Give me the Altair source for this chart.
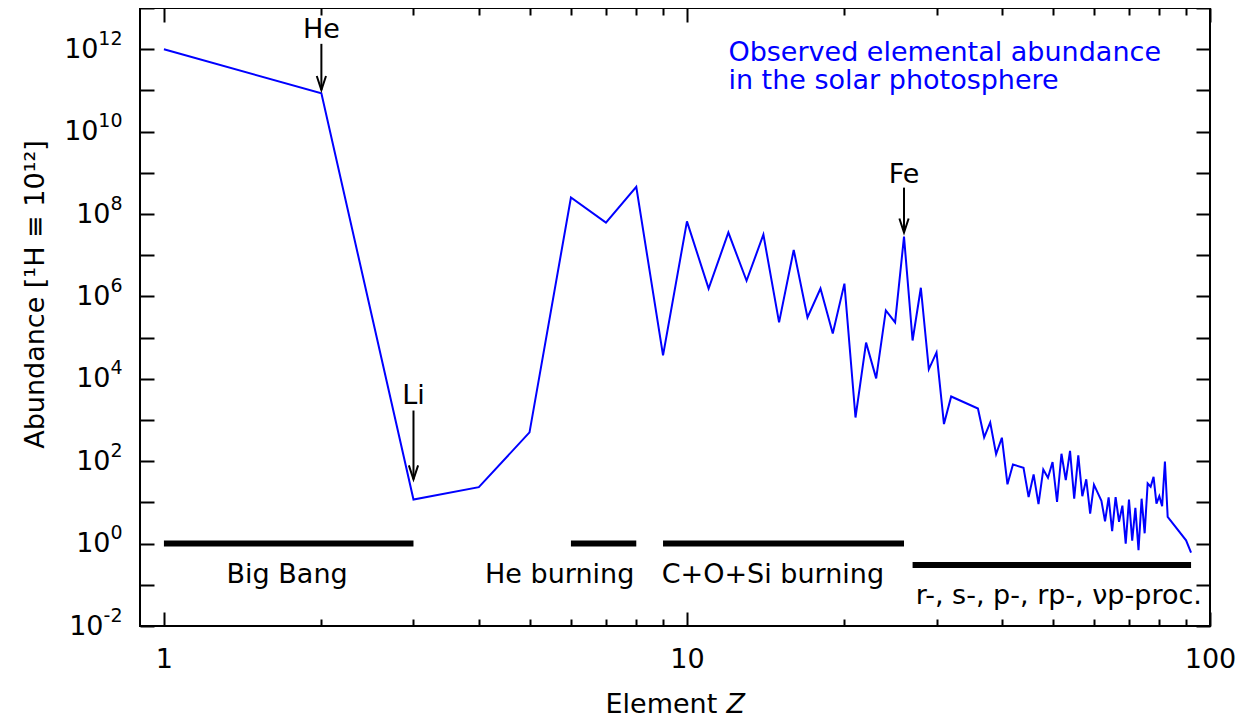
import altair as alt
import pandas as pd

FONT = "DejaVu Sans"
FS = 27
FS_SUP = 19

# Observed solar photospheric abundances, log10 (H = 10^12)
Z = [1, 2, 3, 4, 5, 6, 7, 8, 9, 10, 11, 12, 13, 14, 15, 16, 17, 18, 19, 20,
     21, 22, 23, 24, 25, 26, 27, 28, 29, 30, 31, 32, 36, 37, 38, 39, 40, 41, 42,
     44, 45, 46, 47, 48, 49, 50, 51, 52, 53, 54, 55, 56, 57, 58, 59, 60, 62, 63,
     64, 65, 66, 67, 68, 69, 70, 71, 72, 73, 74, 75, 76, 77, 78, 79, 80, 81, 82,
     83, 90, 92]
LOG_ABUND = [12.00, 10.93, 1.07, 1.37, 2.70, 8.40, 7.79, 8.66, 4.57, 7.82,
             6.19, 7.55, 6.38, 7.50, 5.37, 7.13, 5.49, 6.19, 5.10, 6.31,
             3.06, 4.88, 4.01, 5.66, 5.37, 7.45, 4.93, 6.21, 4.23, 4.64,
             2.90, 3.57, 3.28, 2.58, 2.94, 2.17, 2.57, 1.44, 1.92,
             1.84, 1.13, 1.68, 0.96, 1.80, 1.60, 1.98, 1.01, 2.18, 1.54, 2.25,
             1.09, 2.14, 1.15, 1.56, 0.73, 1.43, 1.04, 0.54,
             1.12, 0.30, 1.13, 0.53, 0.92, 0.00, 1.07, 0.07, 0.87, -0.16, 1.09,
             0.25, 1.46, 1.38, 1.62, 0.97, 1.15, 0.91, 1.99,
             0.65, 0.08, -0.22]

# Nucleosynthesis process bars
BAR_NAMES = ["Big Bang", "He burning", "C+O+Si burning", "r-, s-, p-, rp-, νp-proc."]
BAR_START = [1, 6, 9, 27]
BAR_END = [3, 8, 26, 92]
BAR_LEVEL = [0.0, 0.0, 0.0, -0.52]
BAR_LABEL_X = [1.72, 5.71, 14.6, 51.4]
BAR_LABEL_Y = [-0.96, -0.96, -0.96, -1.47]

# Arrow annotations
ARROW_TEXT = ["He", "Li", "Fe"]
ARROW_X = [2, 3, 26]
ARROW_TEXT_Y = [12.27, 3.40, 8.76]
ARROW_TOP = [12.13, 3.23, 8.64]
ARROW_TIP = [11.01, 1.56, 7.55]

# Legend-like note (two lines in one text item)
NOTE_TEXT = ["Observed elemental abundance\nin the solar photosphere"]
NOTE_X = [12.0]
NOTE_Y = [11.71]

# Axis ticks
X_MAJOR = [1, 10, 100]
X_MINOR = [2, 3, 4, 5, 6, 7, 8, 9, 20, 30, 40, 50, 60, 70, 80, 90]
Y_EXP = list(range(-2, 14))
Y_TICKS = [10.0 ** e for e in Y_EXP]
# tick label = base "10" + raised exponent
Y_BASE = ["10", "", "10", "", "10", "", "10", "", "10", "", "10", "", "10", "", "10", ""]
Y_SUP = ["-2", "", "0", "", "2", "", "4", "", "6", "", "8", "", "10", "", "12", ""]

line_df = pd.DataFrame({"Z": Z, "logA": LOG_ABUND})
bar_df = pd.DataFrame({"name": BAR_NAMES, "z0": BAR_START, "z1": BAR_END,
                       "lev": BAR_LEVEL, "lx": BAR_LABEL_X, "ly": BAR_LABEL_Y})
arrow_df = pd.DataFrame({"t": ARROW_TEXT, "x": ARROW_X, "ty": ARROW_TEXT_Y,
                         "top": ARROW_TOP, "tip": ARROW_TIP})
note_df = pd.DataFrame({"t": NOTE_TEXT, "x": NOTE_X, "y": NOTE_Y})

xs = alt.Scale(type="log", domain=[0.9, 100], nice=False)
ys = alt.Scale(type="log", domain=[1e-2, 1e13], nice=False)


def lookup_expr(labels):
    return "[" + ",".join("'%s'" % s for s in labels) + "][round(log(datum.value)/LN10)+2]"


common = dict(domain=False, grid=False, tickColor="black", tickWidth=2,
              labelFont=FONT, labelFontSize=FS, labelColor="black",
              titleFont=FONT, titleFontSize=FS, titleFontWeight="normal",
              titleColor="black")

x_bottom_major = alt.Axis(orient="bottom", values=X_MAJOR, tickSize=14, offset=-14,
                          labelPadding=20, format="d", title="Element",
                          titleBaseline="alphabetic", titleAlign="left",
                          titleX=465, titleY=100, labelFlush=False, **common)
x_bottom_minor = alt.Axis(orient="bottom", values=X_MINOR, tickSize=7, offset=-7,
                          labels=False, title=None, **common)
x_bottom_title_z = alt.Axis(orient="bottom", values=X_MAJOR, ticks=False, labels=False,
                            title="Z", titleFontStyle="italic", titleBaseline="alphabetic",
                            titleAlign="left", titleX=586, titleY=86, **common)
x_top_major = alt.Axis(orient="top", values=X_MAJOR, tickSize=14, offset=-14,
                       labels=False, title=None, **common)
x_top_minor = alt.Axis(orient="top", values=X_MINOR, tickSize=7, offset=-7,
                       labels=False, title=None, **common)
# base "10": pushed left by the width of its exponent
base_padding = {"condition": [{"test": "datum.value < 0.05", "value": 37},
                              {"test": "datum.value > 1e9", "value": 42}],
                "value": 30}
y_left = alt.Axis(orient="left", values=Y_TICKS, tickSize=14, offset=-14,
                  labelPadding=base_padding, labelExpr=lookup_expr(Y_BASE),
                  labelFlush=False, labelAlign="right",
                  title="Abundance [¹H ≡ 10¹²]", titleAngle=270,
                  titleBaseline="middle", titleX=-119, titleY=286, **common)
sup_common = dict(common)
sup_common["labelFontSize"] = FS_SUP
y_left_sup = alt.Axis(orient="left", values=Y_TICKS, ticks=False, offset=-14,
                      labelPadding=32, labelExpr=lookup_expr(Y_SUP), labelFlush=False,
                      labelAlign="right", labelOffset=-11, title=None, **sup_common)
y_right = alt.Axis(orient="right", values=Y_TICKS, tickSize=14, offset=-14,
                   labels=False, title=None, **common)

line = alt.Chart(line_df).transform_calculate(A="pow(10, datum.logA)").mark_line(
    color="#0000ff", strokeWidth=2
).encode(
    x=alt.X("Z:Q", scale=xs, axis=x_bottom_major),
    y=alt.Y("A:Q", scale=ys, axis=y_left),
    order="Z:Q",
)

bars = alt.Chart(bar_df).transform_calculate(L="pow(10, datum.lev)").mark_rule(
    color="black", strokeWidth=6, strokeCap="butt"
).encode(
    x=alt.X("z0:Q", scale=xs, axis=x_bottom_minor),
    x2="z1:Q",
    y=alt.Y("L:Q", scale=ys, axis=y_right),
)

bar_text = alt.Chart(bar_df).transform_calculate(Y="pow(10, datum.ly)").mark_text(
    font=FONT, fontSize=FS, color="black", align="center", baseline="alphabetic"
).encode(
    x=alt.X("lx:Q", scale=xs, axis=x_top_major),
    y=alt.Y("Y:Q", scale=ys, axis=y_left_sup),
    text="name:N",
)

arrow_shaft = alt.Chart(arrow_df).transform_calculate(
    T="pow(10, datum.top)", P="pow(10, datum.tip)"
).mark_rule(color="black", strokeWidth=2).encode(
    x=alt.X("x:Q", scale=xs, axis=x_top_minor),
    y=alt.Y("T:Q", scale=ys, axis=None),
    y2="P:Q",
)

arrow_head = alt.Chart(arrow_df).transform_calculate(P="pow(10, datum.tip)").mark_point(
    shape="M -0.33 -1 L 0 0 L 0.33 -1", size=784, filled=False, stroke="black",
    strokeWidth=2, opacity=1
).encode(
    x=alt.X("x:Q", scale=xs, axis=x_bottom_title_z),
    y=alt.Y("P:Q", scale=ys, axis=None),
)

arrow_text = alt.Chart(arrow_df).transform_calculate(Y="pow(10, datum.ty)").mark_text(
    font=FONT, fontSize=FS, color="black", align="center", baseline="alphabetic"
).encode(
    x=alt.X("x:Q", scale=xs, axis=None),
    y=alt.Y("Y:Q", scale=ys, axis=None),
    text="t:N",
)

note = alt.Chart(note_df).transform_calculate(Y="pow(10, datum.y)").mark_text(
    font=FONT, fontSize=FS, color="#0000ff", align="left", baseline="alphabetic",
    lineBreak="\n", lineHeight=28
).encode(
    x=alt.X("x:Q", scale=xs, axis=None),
    y=alt.Y("Y:Q", scale=ys, axis=None),
    text="t:N",
)

chart = alt.layer(line, bars, bar_text, arrow_shaft, arrow_head, arrow_text, note).resolve_axis(
    x="independent", y="independent"
).properties(
    width=1070, height=618,
    autosize=alt.AutoSizeParams(type="none"),
    padding={"left": 132, "top": 0, "right": 30, "bottom": 92},
    background="white",
).configure_view(stroke="black", strokeWidth=2)

chart.save("out.html", embed_options={"renderer": "svg", "actions": False})
